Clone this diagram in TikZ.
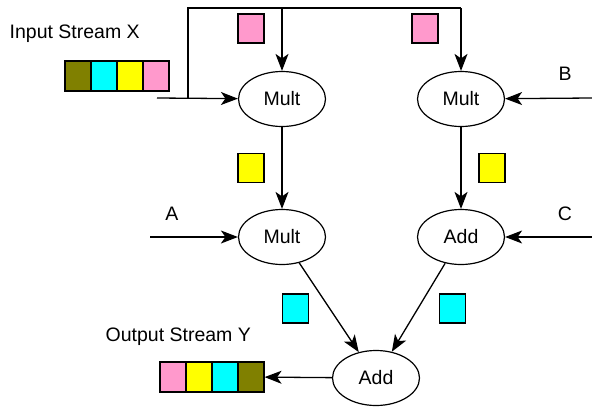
\documentclass[tikz,border=0pt]{standalone}
\usepackage{fontspec}
\setmainfont{Liberation Sans}
\usepackage{xcolor}
\usetikzlibrary{arrows.meta,shapes,shapes.geometric}
\usetikzlibrary{positioning}

\definecolor{tokolive}{RGB}{128,128,0}
\definecolor{tokcyan}{RGB}{0,255,255}
\definecolor{tokyellow}{RGB}{255,255,0}
\definecolor{tokpink}{RGB}{255,153,204}

\begin{document}
\begin{tikzpicture}[x=1pt,y=-1pt,line width=1.3pt,>={Stealth[length=17pt,width=13pt,inset=4.5pt]}]
            \tikzstyle{op}=[draw,ellipse,line width=1.2pt,minimum width=87pt,minimum height=55pt,inner sep=0pt,font=\fontsize{19.5}{23}\selectfont];
            \tikzstyle{token}=[draw,line width=1.1pt,minimum width=26pt,minimum height=29pt,inner sep=0pt];
            \tikzstyle{lbl}=[inner sep=0pt,font=\fontsize{19.5}{23}\selectfont];
            \useasboundingbox (0,0) rectangle (592,407);
            % operators
            \node[op] (mult1) at (282, 99) {Mult};
            \node[op] (mult2) at (461, 99) {Mult};
            \node[op] (mult3) at (282, 237) {Mult};
            \node[op] (add1) at (461, 237) {Add};
            \node[op] (add2) at (376, 378) {Add};
            % streams
            \node[lbl,anchor=base west] (xlbl) at (9, 38) {Input Stream X};
            \node[token,minimum height=30pt,fill=tokolive] (x1) at (78, 76) {};
            \node[token,minimum height=30pt,fill=tokcyan] (x2) at (104, 76) {};
            \node[token,minimum height=30pt,fill=tokyellow] (x3) at (130, 76) {};
            \node[token,minimum height=30pt,fill=tokpink] (x4) at (156, 76) {};
            \node[lbl,anchor=base west] (ylbl) at (105, 341) {Output Stream Y};
            \node[token,minimum height=30pt,fill=tokpink] (y1) at (173, 377) {};
            \node[token,minimum height=30pt,fill=tokyellow] (y2) at (199, 377) {};
            \node[token,minimum height=30pt,fill=tokcyan] (y3) at (225, 377) {};
            \node[token,minimum height=30pt,fill=tokolive] (y4) at (251, 377) {};
            % tokens on the edges
            \node[token,fill=tokpink] (p1) at (251, 28.5) {};
            \node[token,fill=tokpink] (p2) at (425, 28.5) {};
            \node[token,fill=tokyellow] (q1) at (251, 168) {};
            \node[token,fill=tokyellow] (q2) at (492, 168) {};
            \node[token,fill=tokcyan] (r1) at (295.5, 308.5) {};
            \node[token,fill=tokcyan] (r2) at (452.5, 308.5) {};
            % constants
            \node[lbl,anchor=base] (a) at (172, 220) {A};
            \node[lbl,anchor=base] (b) at (565, 80) {B};
            \node[lbl,anchor=base] (c) at (565, 220) {C};
            \coordinate (xin) at (157, 98);
            \coordinate (split) at (188, 98);
            \coordinate (topl) at (188, 8);
            \coordinate (topr) at (461, 8);
            \coordinate (ain) at (150, 237);
            \coordinate (bin) at (592, 98);
            \coordinate (cin) at (592, 237);
            \path[draw] [->] (xin) -- (mult1);
            \path[draw] (split) -- (topl) -- (topr);
            \path[draw] [->] (mult1 |- topl) -- (mult1);
            \path[draw] [->] (topr) -- (mult2);
            \path[draw] [->] (bin) -- (mult2);
            \path[draw] [->] (mult1) -- (mult3);
            \path[draw] [->] (mult2) -- (add1);
            \path[draw] [->] (ain) -- (mult3);
            \path[draw] [->] (cin) -- (add1);
            \path[draw] [->] (mult3) -- (add2);
            \path[draw] [->] (add1) -- (add2);
            \path[draw] [->] (add2) -- (y4);
        \end{tikzpicture}
\end{document}
